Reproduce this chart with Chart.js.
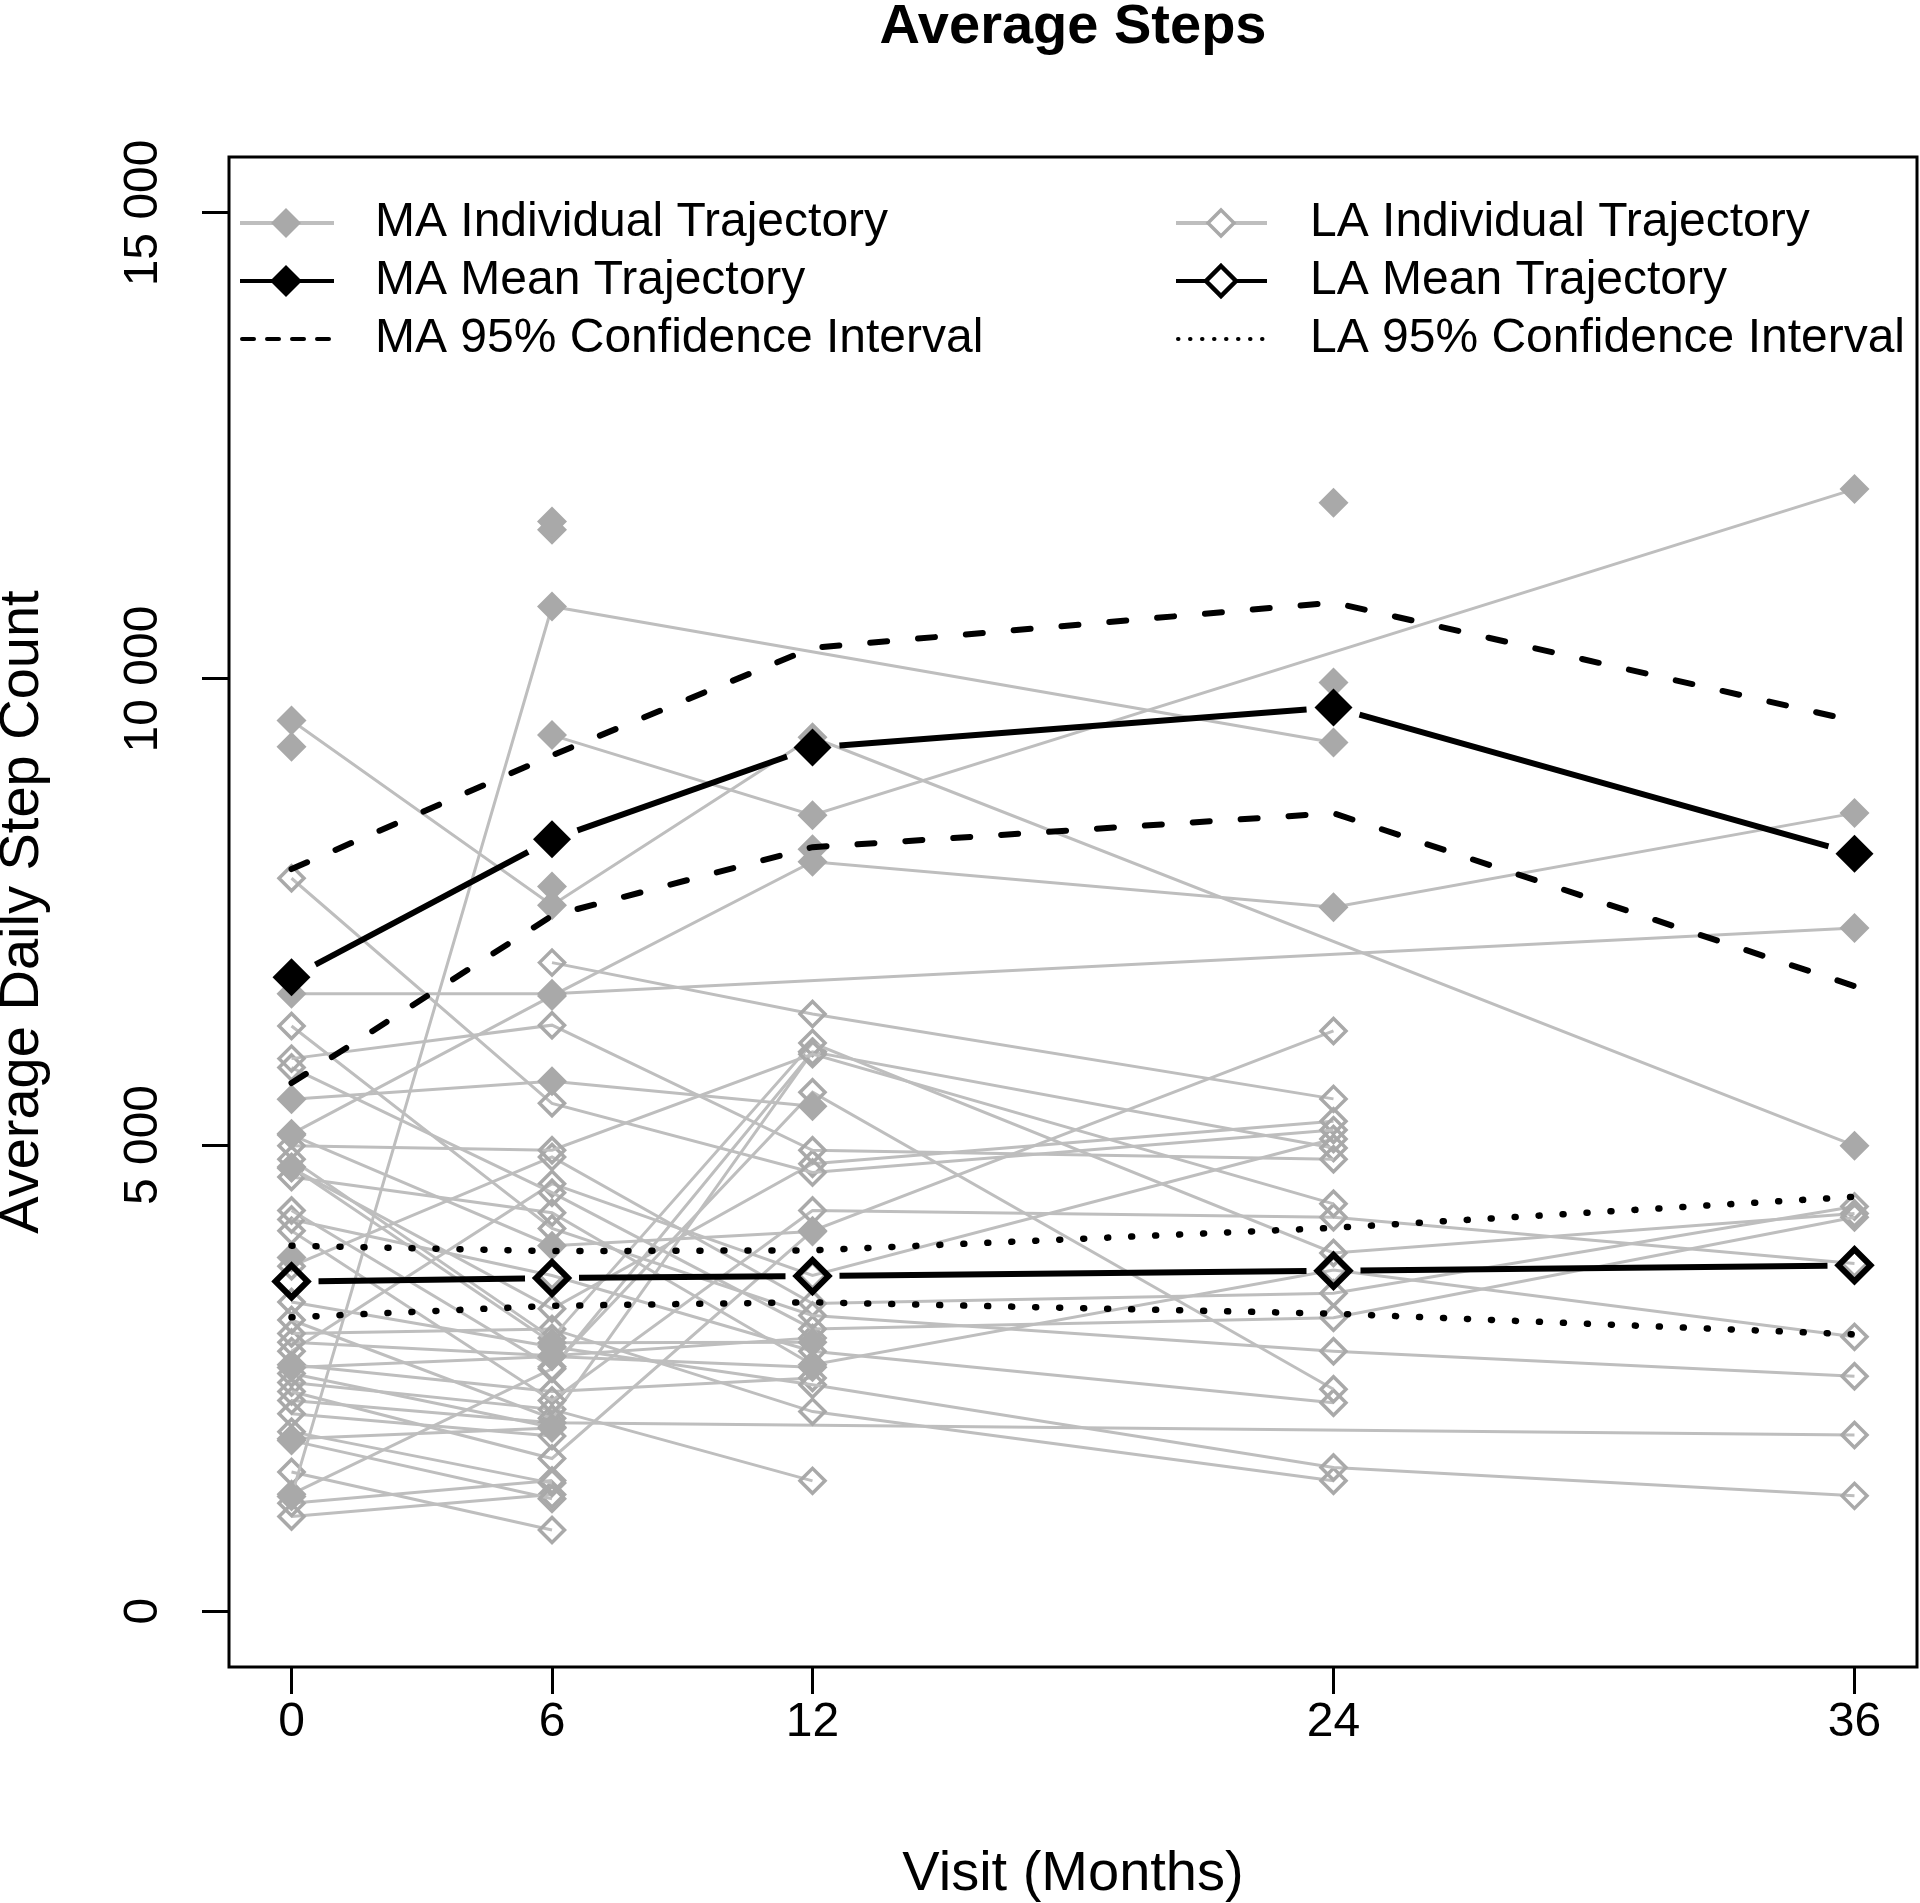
<!DOCTYPE html>
<html>
<head>
<meta charset="utf-8">
<title>Average Steps</title>
<script src="https://cdn.jsdelivr.net/npm/chart.js@4.4.1/dist/chart.umd.min.js"></script>
<style>
  html, body { margin: 0; padding: 0; background: #fff; overflow: hidden; }
  #wrap { width: 1920px; height: 1903px; }
  canvas { display: block; }
</style>
</head>
<body>
<div id="wrap"><canvas id="stepsChart" width="1920" height="1903"></canvas></div>
<script>
// visits (months) and axis ticks
var visits = [0, 6, 12, 24, 36];
var yTicks = [0, 5000, 10000, 15000];

// mean trajectories and 95% CI
var maMean = [6800, 8280, 9265, 9695, 8125];
var maUpper = [7960, 9180, 10335, 10820, 9550];
var maLower = [5665, 7460, 8195, 8560, 6705];
var laMean = [3536, 3573, 3594, 3651, 3709];
var laUpper = [3920, 3862, 3870, 4111, 4445];
var laLower = [3152, 3275, 3313, 3191, 2969];

// individual trajectories, one row per participant (null = missed visit)
var maIndividual = [
  [9554, 7573, 9375, null, 4993],
  [1230, 10778, null, 9318, null],
  [null, 9398, 8539, null, 12037],
  [6622, 6622, null, null, 7328],
  [5120, 6600, 8040, 7551, 8561],
  [9273, null, null, null, null],
  [null, 11690, null, null, null],
  [null, 11601, null, null, null],
  [null, null, null, 11890, null],
  [null, null, null, 9963, null],
  [null, 7773, null, null, null],
  [null, null, 8174, null, null],
  [5491, 5683, 5415, null, null],
  [5108, 3920, 4073, null, null],
  [4763, 2880, 2884, null, null],
  [2613, 2730, 2616, null, null],
  [1849, 1964, null, null, null],
  [3794, null, null, null, null]
];

var laIndividual = [
  [7862, 5447, 4705, 5160, null],
  [null, 6957, 6406, 5495, null],
  [6277, 4105, 3171, 2787, 2520],
  [5927, 6286, 4944, 4848, null],
  [5831, 4489, 3027, 3147, 4226],
  [4992, 4944, 5975, 4369, null],
  [4848, 2931, 6094, 3842, 4265],
  [4752, 3243, 4800, 5256, null],
  [4657, 4273, 2643, 3660, 2942],
  [4297, 2620, 5567, 2380, null],
  [4201, 3600, 2787, 2236, null],
  [4081, 2260, 4297, 4225, 3728],
  [3700, 4872, 3300, 3410, 4341],
  [3315, 2835, 2428, 1541, 1236],
  [3123, 2068, 6000, 4968, null],
  [2979, 3027, 2140, 1397, null],
  [2883, 2739, 2931, null, null],
  [2787, 4585, 3600, 5064, null],
  [2356, 1637, 4080, 6224, null],
  [2643, 2356, 2500, null, null],
  [2548, 1973, null, null, null],
  [2452, 2164, 1397, null, null],
  [2260, 2020, null, null, 1888],
  [2116, 1877, null, null, null],
  [1925, 1373, null, null, null],
  [1829, 1206, null, null, null],
  [1493, 870, null, null, null],
  [1254, 2600, 6000, null, null],
  [1158, 1400, null, null, null],
  [1014, 1250, null, null, null]
];

var fontFamily = '"Liberation Sans", Arial, Helvetica, sans-serif';

function toPoints(arr) {
  return visits.map(function (v, i) { return { x: v, y: arr[i] }; })
    .filter(function (p) { return p.y !== null; });
}

// R type="b": line stops short of each point
function gapDash(ctx) {
  var len = Math.hypot(ctx.p1.x - ctx.p0.x, ctx.p1.y - ctx.p0.y);
  var g = 27;
  return len > 2 * g ? [0, g, len - 2 * g, g + 50] : [0, len + 50];
}

function formatSteps(v) {
  return String(v).replace(/\B(?=(\d{3})+(?!\d))/g, ' ');
}

var datasets = [];

datasets.push({
  label: 'MA Mean Trajectory', data: toPoints(maMean), order: 0,
  borderColor: '#000', borderWidth: 6, borderCapStyle: 'butt',
  segment: { borderDash: gapDash },
  pointStyle: 'rectRot', pointRadius: 19, pointBackgroundColor: '#000',
  pointBorderColor: '#000', pointBorderWidth: 0
});
datasets.push({
  label: 'LA Mean Trajectory', data: toPoints(laMean), order: 0,
  borderColor: '#000', borderWidth: 6, borderCapStyle: 'butt',
  segment: { borderDash: gapDash },
  pointStyle: 'rectRot', pointRadius: 16, pointBackgroundColor: 'rgba(0,0,0,0)',
  pointBorderColor: '#000', pointBorderWidth: 6
});
[maUpper, maLower].forEach(function (arr) {
  datasets.push({
    label: 'MA 95% Confidence Interval', data: toPoints(arr), order: 1,
    borderColor: '#000', borderWidth: 6, borderDash: [17, 31], borderCapStyle: 'round',
    pointRadius: 0
  });
});
[laUpper, laLower].forEach(function (arr) {
  datasets.push({
    label: 'LA 95% Confidence Interval', data: toPoints(arr), order: 1,
    borderColor: '#000', borderWidth: 6.5, borderDash: [1, 23], borderCapStyle: 'round',
    pointRadius: 0
  });
});
maIndividual.forEach(function (arr) {
  datasets.push({
    label: 'MA Individual Trajectory', data: toPoints(arr), order: 5,
    borderColor: '#bebebe', borderWidth: 3,
    pointStyle: 'rectRot', pointRadius: 15, pointBackgroundColor: '#a9a9a9',
    pointBorderColor: '#a9a9a9', pointBorderWidth: 0
  });
});
laIndividual.forEach(function (arr) {
  datasets.push({
    label: 'LA Individual Trajectory', data: toPoints(arr), order: 6,
    borderColor: '#bebebe', borderWidth: 3,
    pointStyle: 'rectRot', pointRadius: 12.5, pointBackgroundColor: 'rgba(0,0,0,0)',
    pointBorderColor: '#a9a9a9', pointBorderWidth: 3.5
  });
});

// legend rows, drawn R-style inside the plot box
var legendRows = [
  { text: 'MA Individual Trajectory', col: 0, row: 0, kind: 'maInd' },
  { text: 'MA Mean Trajectory', col: 0, row: 1, kind: 'maMean' },
  { text: 'MA 95% Confidence Interval', col: 0, row: 2, kind: 'maCI' },
  { text: 'LA Individual Trajectory', col: 1, row: 0, kind: 'laInd' },
  { text: 'LA Mean Trajectory', col: 1, row: 1, kind: 'laMean' },
  { text: 'LA 95% Confidence Interval', col: 1, row: 2, kind: 'laCI' }
];

function diamond(ctx, x, y, r) {
  ctx.beginPath();
  ctx.moveTo(x, y - r);
  ctx.lineTo(x + r, y);
  ctx.lineTo(x, y + r);
  ctx.lineTo(x - r, y);
  ctx.closePath();
}

var legendPlugin = {
  id: 'rLegend',
  afterDraw: function (chart) {
    var ctx = chart.ctx;
    var cols = [
      { x0: 240, x1: 334, mx: 286, tx: 375 },
      { x0: 1176, x1: 1267, mx: 1221, tx: 1310 }
    ];
    var rowY = [223, 281, 339];
    ctx.save();
    legendRows.forEach(function (item) {
      var c = cols[item.col];
      var y = rowY[item.row];
      ctx.setLineDash([]);
      ctx.lineCap = 'butt';
      if (item.kind === 'maCI' || item.kind === 'laCI') {
        ctx.strokeStyle = '#000';
        ctx.lineWidth = 4;
        ctx.lineCap = 'round';
        ctx.setLineDash(item.kind === 'maCI' ? [12, 13] : [0.5, 11.5]);
        ctx.beginPath(); ctx.moveTo(c.x0 + 2, y); ctx.lineTo(c.x1, y); ctx.stroke();
      } else {
        var grey = item.kind === 'maInd' || item.kind === 'laInd';
        ctx.strokeStyle = grey ? '#bebebe' : '#000';
        ctx.lineWidth = 4;
        ctx.beginPath(); ctx.moveTo(c.x0, y); ctx.lineTo(c.x1, y); ctx.stroke();
        if (item.kind === 'maInd') {
          diamond(ctx, c.mx, y, 15); ctx.fillStyle = '#a9a9a9'; ctx.fill();
        } else if (item.kind === 'maMean') {
          diamond(ctx, c.mx, y, 16); ctx.fillStyle = '#000'; ctx.fill();
        } else if (item.kind === 'laInd') {
          diamond(ctx, c.mx, y, 13); ctx.fillStyle = '#fff'; ctx.fill();
          ctx.strokeStyle = '#a9a9a9'; ctx.lineWidth = 3.5; ctx.stroke();
        } else {
          diamond(ctx, c.mx, y, 15); ctx.fillStyle = '#fff'; ctx.fill();
          ctx.strokeStyle = '#000'; ctx.lineWidth = 4.5; ctx.stroke();
        }
      }
      ctx.setLineDash([]);
      ctx.fillStyle = '#000';
      ctx.font = '48px ' + fontFamily;
      ctx.textBaseline = 'middle';
      ctx.textAlign = 'left';
      ctx.fillText(item.text, c.tx, y);
    });
    ctx.restore();
  }
};

// plot frame (R box())
var boxPlugin = {
  id: 'rBox',
  afterDraw: function (chart) {
    var a = chart.chartArea;
    var ctx = chart.ctx;
    ctx.save();
    ctx.strokeStyle = '#000';
    ctx.lineWidth = 3;
    ctx.strokeRect(a.left, a.top, a.right - a.left, a.bottom - a.top);
    ctx.restore();
  }
};

new Chart(document.getElementById('stepsChart'), {
  type: 'line',
  data: { datasets: datasets },
  plugins: [boxPlugin, legendPlugin],
  options: {
    responsive: false,
    devicePixelRatio: 1,
    animation: false,
    events: [],
    layout: { autoPadding: false, padding: { left: 0, right: 3, top: 0, bottom: 0 } },
    plugins: {
      legend: { display: false },
      tooltip: { enabled: false },
      title: {
        display: true,
        fullSize: false,
        text: 'Average Steps',
        color: '#000',
        font: { family: fontFamily, size: 56, weight: 'bold', lineHeight: 1 },
        padding: { top: 0, bottom: 101 }
      }
    },
    scales: {
      x: {
        type: 'linear',
        position: 'bottom',
        min: -1.44,
        max: 37.44,
        afterBuildTicks: function (s) { s.ticks = visits.map(function (v) { return { value: v }; }); },
        afterFit: function (s) { s.height = 236; s.paddingLeft = 0; s.paddingRight = 0; },
        border: { display: false },
        grid: { drawOnChartArea: false, drawTicks: true, tickLength: 27, color: '#000', lineWidth: 3 },
        ticks: {
          autoSkip: false, maxRotation: 0, padding: 0, color: '#000',
          font: { family: fontFamily, size: 48 }
        },
        title: {
          display: true, text: 'Visit (Months)', color: '#000',
          font: { family: fontFamily, size: 56, lineHeight: 1 },
          padding: { top: 0, bottom: 0 }
        }
      },
      y: {
        type: 'linear',
        min: -600,
        max: 15600,
        afterBuildTicks: function (s) { s.ticks = yTicks.map(function (v) { return { value: v }; }); },
        afterFit: function (s) { s.width = 229; s.paddingTop = 0; s.paddingBottom = 0; },
        border: { display: false },
        grid: { drawOnChartArea: false, drawTicks: true, tickLength: 27, color: '#000', lineWidth: 3 },
        ticks: {
          autoSkip: false, minRotation: 90, maxRotation: 90, crossAlign: 'center',
          padding: -15, color: '#000',
          font: { family: fontFamily, size: 48 },
          callback: function (v) { return formatSteps(v); }
        },
        title: {
          display: true, text: 'Average Daily Step Count', color: '#000',
          font: { family: fontFamily, size: 56, lineHeight: 0.8 },
          padding: { top: 0, bottom: 0 }
        }
      }
    }
  }
});
</script>
</body>
</html>
